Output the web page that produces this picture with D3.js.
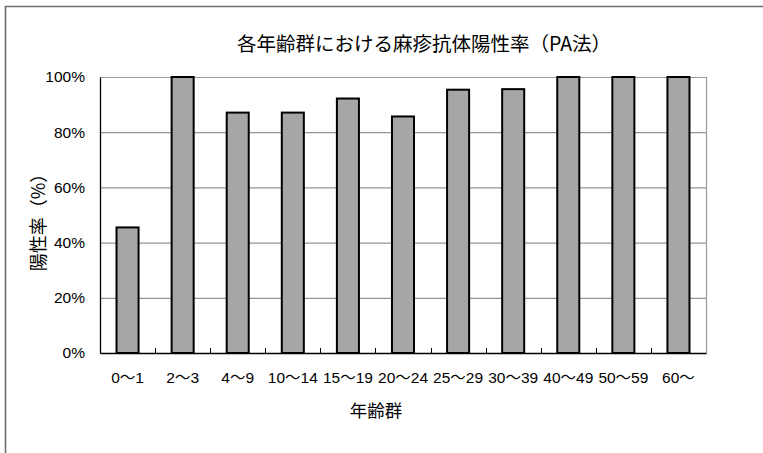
<!DOCTYPE html>
<html>
<head>
<meta charset="utf-8">
<script src="https://cdn.jsdelivr.net/npm/d3@7"></script>
<style>
  html, body { margin: 0; padding: 0; background: #fff; }
  svg { display: block; }
  .jp { font-family: "Noto Sans CJK JP", "Noto Sans", sans-serif; }
  .num { font-family: "Liberation Sans", Arial, "Noto Sans CJK JP", sans-serif; }
</style>
</head>
<body>
<svg id="chart" width="763" height="453"></svg>
<script>
// Age groups and measles antibody positive rate (PA method), in percent
const ageGroups = ["0～1", "2～3", "4～9", "10～14", "15～19", "20～24", "25～29", "30～39", "40～49", "50～59", "60～"];
const positiveRate = [45.5, 100, 87.1, 87.1, 92.2, 85.7, 95.4, 95.6, 100, 100, 100];
const yTicks = [0, 20, 40, 60, 80, 100];

const chartTitle = "各年齢群における麻疹抗体陽性率（PA法）";
const xTitle = "年齢群";
const yTitle = "陽性率（%）";

const svg = d3.select("#chart");
const W = 763, H = 453;
const plot = { left: 100, top: 77, right: 706, bottom: 353 };

// Outer frame (top and left edges)
svg.append("path")
  .attr("d", `M5.5,${H} V6.5 H${W}`)
  .attr("fill", "none")
  .attr("stroke", "#6e6e6e")
  .attr("stroke-width", 1.6);

const x = d3.scaleBand()
  .domain(ageGroups)
  .range([plot.left, plot.right])
  .paddingInner(0.6)
  .paddingOuter(0.3);

const y = d3.scaleLinear()
  .domain([0, 100])
  .range([plot.bottom, plot.top]);

// Horizontal gridlines
svg.append("g")
  .selectAll("line")
  .data(yTicks.filter(t => t > 0 && t < 100))
  .join("line")
  .attr("x1", plot.left).attr("x2", plot.right)
  .attr("y1", d => y(d) + 0.5).attr("y2", d => y(d) + 0.5)
  .attr("stroke", "#7a7a7a")
  .attr("stroke-width", 1);

// Plot area border (top and right)
svg.append("path")
  .attr("d", `M${plot.left},${y(100) + 0.5} H${plot.right + 0.5} V${plot.bottom}`)
  .attr("fill", "none")
  .attr("stroke", "#9a9a9a")
  .attr("stroke-width", 1.2);

// Bars
svg.append("g")
  .selectAll("rect")
  .data(ageGroups.map((g, i) => ({ g, v: positiveRate[i] })))
  .join("rect")
  .attr("x", d => x(d.g))
  .attr("y", d => y(d.v))
  .attr("width", x.bandwidth())
  .attr("height", d => y(0) - y(d.v))
  .attr("fill", "#a6a6a6")
  .attr("stroke", "#000")
  .attr("stroke-width", 2);

// Y axis
const yAxis = svg.append("g")
  .attr("transform", `translate(${plot.left},0)`)
  .call(d3.axisLeft(y).tickValues(yTicks).tickSize(0).tickPadding(15).tickFormat(d => d + "%"));
yAxis.select(".domain").attr("stroke", "#000").attr("stroke-width", 1.3);
yAxis.selectAll("text")
  .attr("class", "num")
  .attr("font-size", 15.5)
  .attr("fill", "#000");

// X axis: tick marks sit on category boundaries and point up into the plot
const xAxis = svg.append("g")
  .attr("transform", `translate(0,${plot.bottom})`)
  .call(d3.axisBottom(x).tickSize(0).tickPadding(19));
xAxis.select(".domain").attr("stroke", "#000").attr("stroke-width", 1.5);
xAxis.selectAll("text")
  .attr("class", "num")
  .attr("font-size", 15.5)
  .attr("fill", "#000");

const step = x.step();
xAxis.append("g")
  .selectAll("line")
  .data(ageGroups.slice(1))
  .join("line")
  .attr("x1", d => Math.round(x(d) + x.bandwidth() / 2 - step / 2) + 0.5)
  .attr("x2", d => Math.round(x(d) + x.bandwidth() / 2 - step / 2) + 0.5)
  .attr("y1", 0).attr("y2", -5)
  .attr("stroke", "#000")
  .attr("stroke-width", 1);

// Titles
svg.append("text")
  .attr("class", "jp")
  .attr("x", 424).attr("y", 51)
  .attr("text-anchor", "middle")
  .attr("font-size", 19.5)
  .attr("fill", "#000")
  .text(chartTitle);

svg.append("text")
  .attr("class", "jp")
  .attr("x", 376).attr("y", 417)
  .attr("text-anchor", "middle")
  .attr("font-size", 17.5)
  .attr("fill", "#000")
  .text(xTitle);

svg.append("text")
  .attr("class", "jp")
  .attr("transform", "translate(45,218) rotate(-90)")
  .attr("text-anchor", "middle")
  .attr("font-size", 18)
  .attr("fill", "#000")
  .text(yTitle);
</script>
</body>
</html>
